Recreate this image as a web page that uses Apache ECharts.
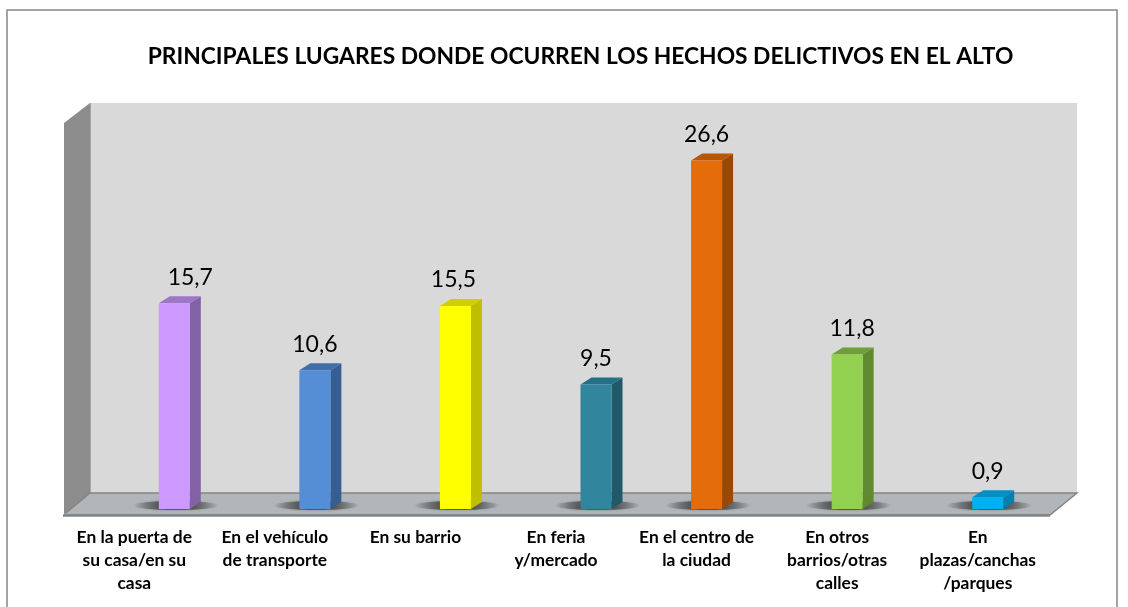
<!DOCTYPE html>
<html>
<head>
<meta charset="utf-8">
<style>
    html, body { margin: 0; padding: 0; background: #fff; }
    #main { width: 1128px; height: 607px; }
</style>
<script src="https://cdn.jsdelivr.net/npm/echarts@6/dist/echarts.min.js"></script>
</head>
<body>
<div id="main"></div>
<script>
var titleText = 'PRINCIPALES LUGARES DONDE OCURREN LOS HECHOS DELICTIVOS EN EL ALTO';
var categories = [
    'En la puerta de\nsu casa/en su\ncasa',
    'En el vehículo\nde transporte',
    'En su barrio',
    'En feria\ny/mercado',
    'En el centro de\nla ciudad',
    'En otros\nbarrios/otras\ncalles',
    'En\nplazas/canchas\n/parques'
];
var values = [15.7, 10.6, 15.5, 9.5, 26.6, 11.8, 0.9];
var barColors = ['#CC99FF', '#558ED5', '#FFFF00', '#31859C', '#E46C0A', '#92D050', '#00B0F0'];
var sideColors = ['#8361A5', '#355F91', '#BFBF00', '#215968', '#984807', '#5F8A2F', '#0080B0'];
var topColors = ['#9E76C6', '#3F6EA8', '#D0D000', '#27708A', '#B85708', '#6F9E3A', '#0090C8'];

// las columnas no caen centradas bajo su etiqueta en el original
var barShift = [40, 40, 40, 40, 10, 10, 10];
var labelNudge = [16, 0, -2, 0, 0, 5, 0];
var barWidth = 31;
var depthX = 11;
var depthY = 7;
var fontName = 'Lato, "Open Sans", sans-serif';

function renderBar(params, api) {
    var i = api.value(0);
    var val = api.value(1);
    var top = api.coord([i, val]);
    var base = api.coord([i, 0]);
    var x0 = top[0] + barShift[i] - barWidth / 2;
    var x1 = x0 + barWidth;
    var y0 = top[1];
    var y1 = base[1];
    var cx = x0 + barWidth / 2 + 1.5;

    return {
        type: 'group',
        children: [
            // sombra sobre el piso
            {
                type: 'ellipse',
                shape: { cx: cx, cy: y1 - 3.5, rx: 43, ry: 4.5 },
                style: {
                    shadowBlur: 3,
                    shadowColor: 'rgba(90,90,90,0.5)',
                    fill: {
                        type: 'linear', x: 0, y: 0, x2: 1, y2: 0,
                        colorStops: [
                            { offset: 0, color: 'rgba(80,80,80,0)' },
                            { offset: 0.3, color: 'rgba(80,80,80,0.9)' },
                            { offset: 0.7, color: 'rgba(80,80,80,0.9)' },
                            { offset: 1, color: 'rgba(80,80,80,0)' }
                        ]
                    }
                }
            },
            {
                type: 'polygon',
                shape: { points: [[x1, y0], [x1 + depthX, y0 - depthY], [x1 + depthX, y1 - depthY], [x1, y1]] },
                style: { fill: sideColors[i] }
            },
            {
                type: 'polygon',
                shape: { points: [[x0, y0], [x0 + depthX, y0 - depthY], [x1 + depthX, y0 - depthY], [x1, y0]] },
                style: { fill: topColors[i] }
            },
            {
                type: 'rect',
                shape: { x: x0, y: y0, width: barWidth, height: y1 - y0 },
                style: { fill: barColors[i] }
            },
            {
                type: 'text',
                x: x0 + barWidth / 2 + labelNudge[i],
                y: y0 - 26,
                style: {
                    text: String(val).replace('.', ','),
                    fill: '#000',
                    font: '23px ' + fontName,
                    textAlign: 'center',
                    textVerticalAlign: 'middle'
                }
            }
        ]
    };
}

var myChart = echarts.init(document.getElementById('main'), null, { renderer: 'canvas' });
myChart.setOption({
    backgroundColor: '#fff',
    animation: false,
    title: {
        text: titleText,
        left: 575.5,
        top: 40,
        textAlign: 'center',
        textStyle: { color: '#000', fontFamily: fontName, fontWeight: 'bold', fontSize: 22.8 }
    },
    // marco, paredes y piso del grafico 3D
    graphic: [
        {
            type: 'rect', silent: true, z: 0,
            shape: { x: 7, y: 10, width: 1110, height: 620 },
            style: { fill: '#fff', stroke: '#868686', lineWidth: 1.5 }
        },
        {
            type: 'rect', silent: true, z: 0,
            shape: { x: 90, y: 103, width: 987, height: 390 },
            style: { fill: '#D9D9D9' }
        },
        {
            type: 'polygon', silent: true, z: 0,
            shape: { points: [[64, 123], [90, 103], [90, 493], [64, 515]] },
            style: { fill: '#8C8C8C' }
        },
        {
            type: 'line', silent: true, z: 0,
            shape: { x1: 90.5, y1: 103, x2: 90.5, y2: 493 },
            style: { stroke: '#A6A6A6', lineWidth: 1 }
        },
        {
            type: 'polygon', silent: true, z: 0,
            shape: { points: [[64, 515], [90, 493], [1077, 493], [1050, 515]] },
            style: { fill: '#B1B6BA' }
        },
        {
            type: 'polyline', silent: true, z: 0,
            shape: { points: [[64, 515], [1050, 515], [1077, 493], [90, 493], [66, 513]] },
            style: { fill: 'none', stroke: '#858585', lineWidth: 1.5 }
        },
        {
            type: 'line', silent: true, z: 0,
            shape: { x1: 63, y1: 515.5, x2: 1050, y2: 515.5 },
            style: { stroke: '#858585', lineWidth: 2.5 }
        }
    ],
    grid: { left: 64, right: 80, top: 116, bottom: 98, containLabel: false },
    xAxis: {
        type: 'category',
        data: categories,
        axisLine: { show: false },
        axisTick: { show: false },
        axisLabel: {
            interval: 0,
            margin: 17,
            color: '#000',
            fontFamily: fontName,
            fontWeight: 'bold',
            fontSize: 17.4,
            lineHeight: 23
        }
    },
    yAxis: {
        type: 'value',
        min: 0,
        max: 30,
        interval: 5,
        show: false
    },
    series: [
        {
            type: 'custom',
            renderItem: renderBar,
            clip: false,
            encode: { x: 0, y: 1 },
            data: values.map(function (v, i) { return [i, v]; })
        }
    ]
});
</script>
</body>
</html>
